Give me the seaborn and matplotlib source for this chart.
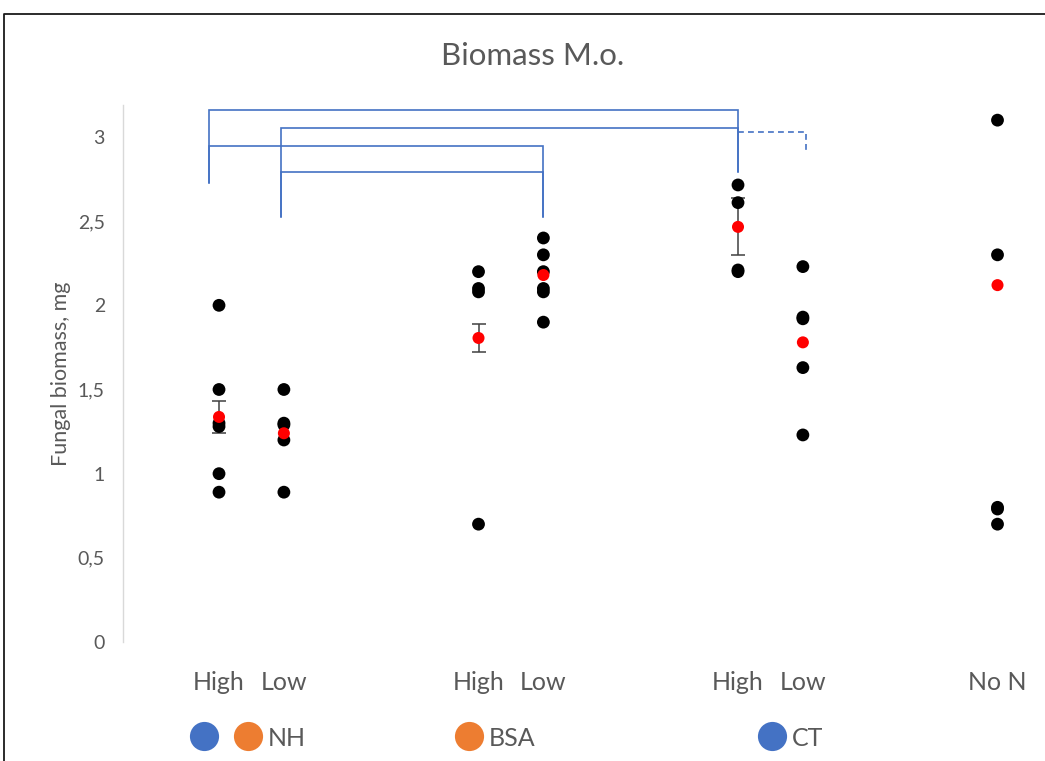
import numpy as np
import pandas as pd
import matplotlib
matplotlib.use("Agg")
import matplotlib.pyplot as plt
from matplotlib.lines import Line2D
import seaborn as sns

# Treatment slots along the x axis
slot_labels = ["High", "Low", "High", "Low", "High", "Low", "No N"]
slot_positions = [0.875, 1.125, 1.875, 2.125, 2.875, 3.125, 3.875]

# Replicate measurements (mg)
high_nh = [2.0, 1.5, 1.30, 1.28, 1.0, 0.89]
low_nh = [1.5, 1.30, 1.29, 1.2, 0.89]
high_bsa = [2.2, 2.1, 2.08, 0.7]
low_bsa = [2.4, 2.3, 2.2, 2.1, 2.08, 1.9]
high_ct = [2.715, 2.61, 2.21, 2.20]
low_ct = [2.23, 1.93, 1.92, 1.63, 1.23]
no_n = [3.1, 2.3, 0.80, 0.79, 0.70]
replicates = [high_nh, low_nh, high_bsa, low_bsa, high_ct, low_ct, no_n]

# Treatment means and standard errors
means = [1.337, 1.24, 1.806, 2.18, 2.466, 1.78, 2.12]
errors = [0.097, np.nan, 0.086, np.nan, 0.17, np.nan, np.nan]

yticks = [0, 0.5, 1, 1.5, 2, 2.5, 3]
ytick_labels = ["0", "0,5", "1", "1,5", "2", "2,5", "3"]

# Significance brackets: x start, x end, bar level, left foot, right foot
brackets = [
    (0.836, 2.876, 3.161, 2.727, 2.793, "-"),
    (1.114, 2.876, 3.054, 2.527, 2.793, "-"),
    (0.836, 2.124, 2.947, 2.727, 2.527, "-"),
    (1.114, 2.124, 2.793, 2.527, 2.527, "-"),
    (2.876, 3.137, 3.032, 3.032, 2.906, "--"),
]

legend_labels = ["", "NH", "BSA", "CT"]
legend_x = [204, 248, 469, 772]
BLUE = "#4472C4"
ORANGE = "#ED7D31"
legend_colors = [BLUE, ORANGE, ORANGE, BLUE]
TEXT = "#595959"

sns.set_theme(style="white")
plt.rcParams["font.family"] = ["Lato", "DejaVu Sans"]

W, H = 1045, 761
fig = plt.figure(figsize=(W / 100, H / 100), dpi=100)
ax = fig.add_axes([123 / W, 1 - 642 / H, (W - 123) / W, (642 - 105) / H])

points = pd.DataFrame(
    [(slot_positions[i], v) for i, vals in enumerate(replicates) for v in vals],
    columns=["x", "biomass"],
)
summary = pd.DataFrame({"x": slot_positions, "mean": means, "se": errors})

ax.errorbar(summary["x"], summary["mean"], yerr=summary["se"], fmt="none",
            ecolor="#404040", elinewidth=1.1, capsize=5, capthick=1.1, zorder=2)
sns.scatterplot(data=points, x="x", y="biomass", color="black", s=85,
                edgecolor="none", ax=ax, zorder=3)
sns.scatterplot(data=summary, x="x", y="mean", color="#FF0000", s=75,
                edgecolor="none", ax=ax, zorder=4)

for x1, x2, level, foot1, foot2, style in brackets:
    ax.plot([x1, x1, x2, x2], [foot1, level, level, foot2], color=BLUE,
            lw=1.2, ls=style, dashes=(3.5, 2.5) if style == "--" else (None, None),
            solid_joinstyle="miter", zorder=1)

ax.set_xlim(0.505, 0.875 + (W - 219) / 259.5)
ax.set_ylim(0, 3.19)
ax.set_xticks(slot_positions)
ax.set_xticklabels(slot_labels, fontsize=18, color=TEXT)
ax.set_yticks(yticks)
ax.set_yticklabels(ytick_labels, fontsize=14, color=TEXT)
ax.tick_params(axis="x", length=0, pad=21)
ax.tick_params(axis="y", length=0, pad=13)
ax.set_xlabel("")
ax.set_ylabel("Fungal biomass, mg", fontsize=15.5, color=TEXT, labelpad=5)

for side in ["top", "right", "bottom"]:
    ax.spines[side].set_visible(False)
ax.spines["left"].set_color("#D9D9D9")
ax.spines["left"].set_linewidth(1.0)

fig.text(533 / W, 1 - 56 / H, "Biomass M.o.", ha="center", va="center",
         fontsize=22.5, color=TEXT)

# Series key along the bottom
for label, px, col in zip(legend_labels, legend_x, legend_colors):
    fig.add_artist(Line2D([px / W], [1 - 736 / H], marker="o", markersize=21,
                          color=col, markeredgewidth=0, transform=fig.transFigure))
    if label:
        fig.text((px + 20) / W, 1 - 739 / H, label, ha="left", va="center",
                 fontsize=18, color=TEXT)

# Frame around the chart area
fig.add_artist(Line2D([4 / W, 4 / W, 1.0], [0.0, 1 - 14 / H, 1 - 14 / H],
                      color="#1a1a1a", lw=1.3, transform=fig.transFigure))

fig.savefig("out.png", dpi=100)
